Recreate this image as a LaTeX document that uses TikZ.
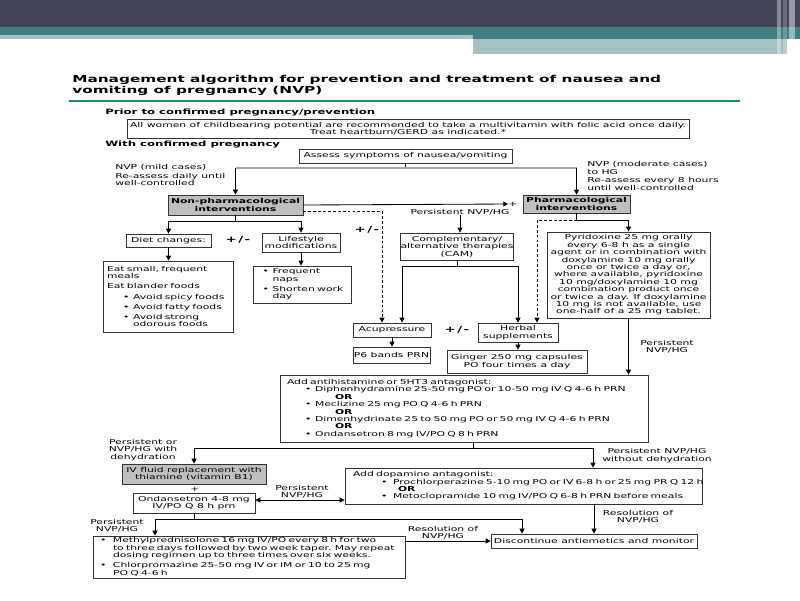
\documentclass[tikz,border=0pt]{standalone}
\usepackage{fontspec}
\setmainfont{DejaVu Sans}[FakeStretch=1.6]
\usetikzlibrary{positioning,arrows.meta}

\newdimen\px \px=0.025cm
% one unbreakable list line: indent, bullet box, text
\newcommand{\itm}[3]{\mbox{\hspace*{#1\px}\makebox[#2\px][l]{\textbullet}#3}}
\newcommand{\lin}[2]{\mbox{\hspace*{#1\px}#2}}

\definecolor{hdark}{RGB}{69,69,90}
\definecolor{hteal}{RGB}{64,128,128}
\definecolor{hlight}{RGB}{166,193,196}
\definecolor{rulegreen}{RGB}{22,140,104}

\tikzset{
  box/.style={draw=black!80, line width=0.5pt, inner sep=0pt, align=center,
    font=\fontsize{4.8}{5.25}\selectfont},
  greybox/.style={box, fill=black!25},
  lbox/.style={box, align=left},
  wh/.style 2 args={minimum width=#1\px, minimum height=#2\px},
  lbl/.style={inner sep=0pt, align=center, font=\fontsize{4.8}{5.25}\selectfont},
  pm/.style={inner sep=0pt, font=\fontsize{6}{7}\selectfont\bfseries},
  hd/.style={inner sep=0pt, anchor=west, font=\fontsize{5.2}{6}\selectfont\bfseries},
  ln/.style={line width=0.6pt},
  arr/.style={ln, -{Triangle[length=3.5pt,width=3.5pt]}},
  dsh/.style={ln, dash pattern=on 2pt off 1.5pt},
}

\begin{document}
\begin{tikzpicture}[x=0.025cm, y=-0.025cm]
\useasboundingbox (0,0) rectangle (800,600);
\fill[white] (0,0) rectangle (800,600);

% slide header
\fill[hdark] (0,0) rectangle (800,27);
\fill[hteal] (0,27) rectangle (800,35);
\fill[hlight] (0,35) rectangle (473,39);
\fill[hteal] (473,35) rectangle (800,39);
\fill[hlight] (473,39) rectangle (787,54);
\fill[white, opacity=0.35] (777,0) rectangle (781,54);
\fill[white, opacity=0.2] (783,0) rectangle (787,54);
\fill[white, opacity=0.45] (789,0) rectangle (795,54);

% title
\node[inner sep=0pt, anchor=west, align=left, font=\fontsize{6.8}{8}\selectfont\bfseries] (title) at (72,85.5)
  {Management algorithm for prevention and treatment of nausea and\\vomiting of pregnancy (NVP)};
\draw[rulegreen, line width=2pt] (69,101) -- (740,101);

\node[hd] (hprior) at (105,113) {Prior to confirmed pregnancy/prevention};
\node[box, wh={562}{19}] (prior) at (408,128.5)
  {All women of childbearing potential are recommended to take a multivitamin with folic acid once daily.\\Treat heartburn/GERD as indicated.*};
\node[hd] (hwith) at (105,145) {With confirmed pregnancy};

% boxes
\node[box, wh={213}{14}] (assess) at (405.5,156) {Assess symptoms of nausea/vomiting};
\node[greybox, wh={135}{20}, font=\fontsize{4.8}{5.25}\selectfont\bfseries] (nonph) at (235.5,205) {Non-pharmacological\\interventions};
\node[greybox, wh={107}{18}, font=\fontsize{4.8}{5.25}\selectfont\bfseries] (pharm) at (576.5,204) {Pharmacological\\interventions};
\node[box, wh={85}{13}] (diet) at (168.5,240.5) {Diet changes:};
\node[box, wh={78}{19}] (life) at (301,242.5) {Lifestyle\\modifications};
\node[lbox, wh={130}{71}, text width=122\px, inner xsep=4\px] (dietlist) at (168,296.5)
  {\lin{0}{Eat small, frequent}\\\lin{0}{meals}\\[2pt]\lin{0}{Eat blander foods}\\[2pt]\itm{16}{10}{Avoid spicy foods}\\[2pt]\itm{16}{10}{Avoid fatty foods}\\[2pt]\itm{16}{10}{Avoid strong}\\\lin{26}{odorous foods}};
\node[lbox, wh={98}{37}, text width=88\px, inner xsep=5\px] (lifelist) at (302.5,284.5)
  {\itm{4}{10}{Frequent}\\\lin{14}{naps}\\[2pt]\itm{4}{10}{Shorten work}\\\lin{14}{day}};
\node[box, wh={112}{27}] (cam) at (457,246.5) {Complementary/\\alternative therapies\\(CAM)};
\node[box, wh={163}{86}] (pyr) at (628.5,275)
  {Pyridoxine 25 mg orally\\every 6-8 h as a single\\agent or in combination with\\doxylamine 10 mg orally\\once or twice a day or,\\where available, pyridoxine\\10 mg/doxylamine 10 mg\\combination product once\\or twice a day. If doxylamine\\10 mg is not available, use\\one-half of a 25 mg tablet.};
\node[box, wh={78}{14}] (acu) at (392,330) {Acupressure};
\node[box, wh={80}{19}] (herb) at (518,332.5) {Herbal\\supplements};
\node[box, wh={77}{16}] (p6) at (391.5,355) {P6 bands PRN};
\node[box, wh={140}{23}] (ginger) at (517,361.5) {Ginger 250 mg capsules\\PO four times a day};
\node[lbox, wh={368}{67}, text width=354\px, inner xsep=7\px] (antih) at (464,408.5)
  {\lin{0}{Add antihistamine or 5HT3 antagonist:}\\
   \itm{18}{10}{Diphenhydramine 25-50 mg PO or 10-50 mg IV Q 4-6 h PRN}\\
   \lin{48}{\textbf{OR}}\\
   \itm{18}{10}{Meclizine 25 mg PO Q 4-6 h PRN}\\
   \lin{48}{\textbf{OR}}\\
   \itm{18}{10}{Dimenhydrinate 25 to 50 mg PO or 50 mg IV Q 4-6 h PRN}\\
   \lin{48}{\textbf{OR}}\\
   \itm{18}{10}{Ondansetron 8 mg IV/PO Q 8 h PRN}};
\node[greybox, wh={144}{20}] (iv) at (194,474) {IV fluid replacement with\\thiamine (vitamin B1)};
\node[box, wh={122}{20}] (ond) at (194,503) {Ondansetron 4-8 mg\\IV/PO Q 8 h prn};
\node[lbox, wh={357}{36}, text width=341\px, inner xsep=8\px] (dopa) at (523.5,486)
  {\lin{0}{Add dopamine antagonist:}\\
   \itm{28}{12}{Prochlorperazine 5-10 mg PO or IV 6-8 h or 25 mg PR Q 12 h}\\
   \lin{45}{\textbf{OR}}\\
   \itm{28}{12}{Metoclopramide 10 mg IV/PO Q 6-8 h PRN before meals}};
\node[lbox, wh={312}{42}, text width=298\px, inner xsep=7\px] (methyl) at (249,557)
  {\itm{0}{13}{Methylprednisolone 16 mg IV/PO every 8 h for two}\\
   \lin{13}{to three days followed by two week taper. May repeat}\\
   \lin{13}{dosing regimen up to three times over six weeks.}\\[2pt]
   \itm{0}{13}{Chlorpromazine 25-50 mg IV or IM or 10 to 25 mg}\\
   \lin{13}{PO Q 4-6 h}};
\node[box, wh={206}{14}] (disc) at (594,541) {Discontinue antiemetics and monitor};

% labels
\node[lbl, anchor=west, align=left] (mild) at (115,175) {NVP (mild cases)\\[1pt]Re-assess daily until\\well-controlled};
\node[lbl, anchor=west, align=left] (moder) at (587,176) {NVP (moderate cases)\\to HG\\[1pt]Re-assess every 8 hours\\until well-controlled};
\node[lbl] (plus) at (513,204) {+};
\node[lbl] (pers1) at (460,212) {Persistent NVP/HG};
\node[pm] (pm1) at (238,239.5) {+\,/\,-};
\node[pm] (pm2) at (367,230) {+\,/\,-};
\node[pm] (pm3) at (457,330) {+\,/\,-};
\node[lbl] (pers2) at (667,346.5) {Persistent\\NVP/HG};
\node[lbl] (persdeh) at (143,450) {Persistent or\\NVP/HG with\\dehydration};
\node[lbl] (persnodeh) at (657,455.5) {Persistent NVP/HG\\without dehydration};
\node[lbl] (plus2) at (195,489) {+};
\node[lbl] (pers3) at (302,491.5) {Persistent\\NVP/HG};
\node[lbl] (pers4) at (117,526) {Persistent\\NVP/HG};
\node[lbl] (res1) at (443,532.5) {Resolution of\\NVP/HG};
\node[lbl] (res2) at (638,517) {Resolution of\\NVP/HG};

% junction points
\coordinate (split) at (405.5,168);
\coordinate (nb) at (235.5,221);
\coordinate (dn) at (382,211);
\coordinate (pb) at (576.5,220);
\coordinate (dp) at (537,220);
\coordinate (cb) at (457,266);
\coordinate (ca) at (402,266);
\coordinate (ab) at (473,448);
\coordinate (ar) at (593,448);
\coordinate (dd) at (300,500);
\coordinate (ob) at (194,519);
\coordinate (ol) at (155,519);
\coordinate (or) at (522,519);

% connectors
\draw[ln] (assess) -- (split);
\draw[black!35, line width=1.4pt] (nonph.north |- split) -- (pharm.north |- split);
\draw[arr] (nonph.north |- split) -- (nonph);
\draw[arr] (pharm.north |- split) -- (pharm);
\draw[arr] (nonph.east) -- (plus.west);
\draw[arr] (pers1.south) -- (pers1.south |- cam.north);

\draw[ln] (nonph.south) -- (nb);
\draw[ln] (diet.north |- nb) -- (life.north |- nb);
\draw[arr] (diet.north |- nb) -- (diet);
\draw[arr] (life.north |- nb) -- (life);
\draw[arr] (diet) -- (diet |- dietlist.north);
\draw[arr] (life) -- (life |- lifelist.north);
\draw[dsh, -{Triangle[length=3.5pt,width=3.5pt]}] (nonph.east |- dn) -- (dn) -- (dn |- acu.north);

\draw[arr] (pharm.south) |- (pyr.north |- pb) -- (pyr.north);
\draw[dsh, -{Triangle[length=3.5pt,width=3.5pt]}] (pb) -- (dp) -- (dp |- herb.north);

\draw[ln] (cam.south) -- (cb);
\draw[arr] (cb) -| (herb.north);
\draw[arr] (cb) -- (ca) -- (ca |- acu.north);
\draw[arr] (acu) -- (acu |- p6.north);
\draw[arr] (herb) -- (herb |- ginger.north);
\draw[arr] (pyr.south) -- (pyr.south |- antih.north);

\draw[ln] (ab |- antih.south) -- (ab);
\draw[arr] (ab) -| (iv.north);
\draw[arr] (ab) -- (ar) -- (ar |- dopa.north);
\draw[ln, {Triangle[length=3.5pt,width=3.5pt]}-{Triangle[length=3.5pt,width=3.5pt]}] (ond.east |- dd) -- (dopa.west |- dd);

\draw[ln] (ond.south) -- (ob);
\draw[arr] (ol) -- (or) -- (or |- disc.north);
\draw[arr] (ol) -- (ol |- methyl.north);
\draw[arr] (methyl.east |- disc) -- (disc.west);
\draw[arr] (disc.north |- dopa.south) -- (disc.north);

\end{tikzpicture}
\end{document}
